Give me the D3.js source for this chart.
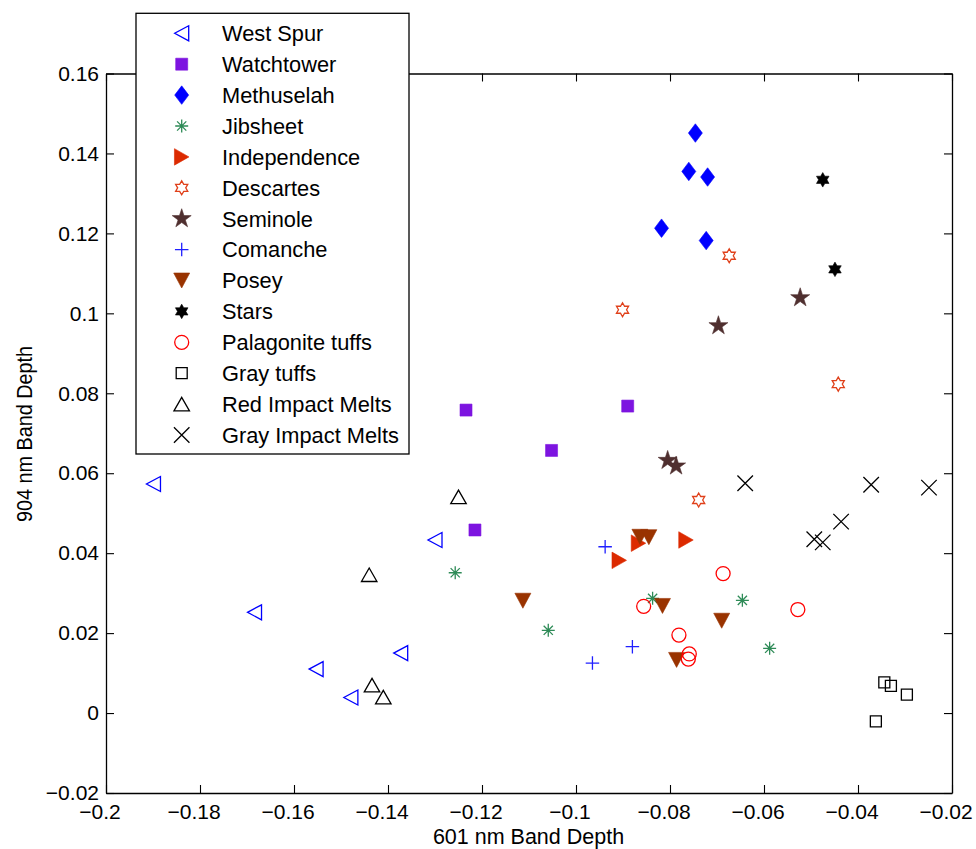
<!DOCTYPE html>
<html>
<head>
<meta charset="utf-8">
<script src="https://cdn.jsdelivr.net/npm/d3@7"></script>
<style>
  html, body { margin: 0; padding: 0; background: #fff; }
  svg { display: block; }
</style>
</head>
<body>
<svg id="chart" width="976" height="849"></svg>
<script>
// Band depth measurements: [601 nm band depth, 904 nm band depth]
const westSpur = [[-0.1899, 0.0573], [-0.1684, 0.0252], [-0.1553, 0.0110], [-0.1479, 0.0039], [-0.1373, 0.0150], [-0.1300, 0.0433]];
const watchtower = [[-0.1234, 0.0758], [-0.0890, 0.0768], [-0.1052, 0.0657], [-0.1215, 0.0458]];
const methuselah = [[-0.0746, 0.1451], [-0.0760, 0.1355], [-0.0720, 0.1341], [-0.0818, 0.1213], [-0.0723, 0.1182]];
const jibsheet = [[-0.1257, 0.0351], [-0.1059, 0.0207], [-0.0837, 0.0287], [-0.0646, 0.0282], [-0.0588, 0.0162]];
const independence = [[-0.0766, 0.0433], [-0.0908, 0.0382], [-0.0867, 0.0425]];
const descartes = [[-0.0674, 0.1144], [-0.0901, 0.1009], [-0.0442, 0.0823], [-0.0739, 0.0533]];
const seminole = [[-0.0523, 0.1039], [-0.0697, 0.0969], [-0.0805, 0.0632], [-0.0787, 0.0618]];
const comanche = [[-0.0938, 0.0416], [-0.0880, 0.0166], [-0.0965, 0.0125]];
const posey = [[-0.1113, 0.0281], [-0.0816, 0.0268], [-0.0690, 0.0231], [-0.0786, 0.0133], [-0.0864, 0.0441], [-0.0845, 0.0440]];
const stars = [[-0.0475, 0.1334], [-0.0449, 0.1110]];
const palagoniteTuffs = [[-0.0528, 0.0259], [-0.0687, 0.0349], [-0.0856, 0.0267], [-0.0781, 0.0195], [-0.0759, 0.0148], [-0.0761, 0.0135]];
const grayTuffs = [[-0.0344, 0.0077], [-0.0330, 0.0068], [-0.0296, 0.0046], [-0.0362, -0.0021]];
const redImpactMelts = [[-0.1440, 0.0346], [-0.1434, 0.0070], [-0.1410, 0.0040], [-0.1250, 0.0541]];
const grayImpactMelts = [[-0.0640, 0.0575], [-0.0372, 0.0571], [-0.0249, 0.0564], [-0.0436, 0.0479], [-0.0493, 0.0435], [-0.0475, 0.0427]];

const seriesNames = ["West Spur", "Watchtower", "Methuselah", "Jibsheet", "Independence", "Descartes", "Seminole",
  "Comanche", "Posey", "Stars", "Palagonite tuffs", "Gray tuffs", "Red Impact Melts", "Gray Impact Melts"];

const xTicks = [-0.2, -0.18, -0.16, -0.14, -0.12, -0.1, -0.08, -0.06, -0.04, -0.02];
const xTickLabels = ["\u22120.2", "\u22120.18", "\u22120.16", "\u22120.14", "\u22120.12", "\u22120.1", "\u22120.08", "\u22120.06", "\u22120.04", "\u22120.02"];
const yTicks = [-0.02, 0, 0.02, 0.04, 0.06, 0.08, 0.1, 0.12, 0.14, 0.16];
const yTickLabels = ["\u22120.02", "0", "0.02", "0.04", "0.06", "0.08", "0.1", "0.12", "0.14", "0.16"];

// Marker styling for each series, in legend order
const seriesStyles = [
  { shape: "triLeft",   color: "#0000ff", filled: false, w: 14, h: 15 },
  { shape: "square",    color: "#7d14e0", filled: true,  w: 12, h: 12 },
  { shape: "diamond",   color: "#0000ff", filled: true,  w: 14, h: 18.5 },
  { shape: "asterisk",  color: "#2e8b57", filled: false, w: 13, h: 13 },
  { shape: "triRight",  color: "#dc2a00", filled: true,  w: 14.5, h: 16.5 },
  { shape: "hexagram",  color: "#e0401a", filled: false, w: 14, h: 14 },
  { shape: "pentagram", color: "#4f2f2f", filled: true,  w: 19, h: 19 },
  { shape: "plus",      color: "#2020ff", filled: false, w: 13.5, h: 13.5 },
  { shape: "triDown",   color: "#993300", filled: true,  w: 16, h: 15 },
  { shape: "hexagram",  color: "#000000", filled: true,  w: 14.5, h: 14.5 },
  { shape: "circle",    color: "#ff0000", filled: false, w: 14, h: 14 },
  { shape: "square",    color: "#000000", filled: false, w: 11, h: 11 },
  { shape: "triUp",     color: "#000000", filled: false, w: 15.5, h: 13.5 },
  { shape: "cross",     color: "#000000", filled: false, w: 15.5, h: 15.5 }
];

const seriesData = [westSpur, watchtower, methuselah, jibsheet, independence, descartes, seminole,
  comanche, posey, stars, palagoniteTuffs, grayTuffs, redImpactMelts, grayImpactMelts];

const series = seriesNames.map((name, i) => Object.assign({ name, data: seriesData[i] }, seriesStyles[i]));

const FONT = "'Liberation Sans', Arial, Helvetica, sans-serif";
const plot = { left: 106, right: 952, top: 73.5, bottom: 793 };

const x = d3.scaleLinear().domain([-0.2, -0.02]).range([plot.left, plot.right]);
const y = d3.scaleLinear().domain([-0.02, 0.16]).range([plot.bottom, plot.top]);

const svg = d3.select("#chart");

// Marker outlines centred on the origin
function starPath(points, rOuter, rInner) {
  const p = d3.path();
  for (let k = 0; k < points * 2; k++) {
    const a = -Math.PI / 2 + k * Math.PI / points;
    const r = k % 2 === 0 ? rOuter : rInner;
    const px = r * Math.cos(a), py = r * Math.sin(a);
    if (k === 0) p.moveTo(px, py); else p.lineTo(px, py);
  }
  p.closePath();
  return p.toString();
}

function markerPath(s) {
  const w = s.w / 2, h = s.h / 2;
  switch (s.shape) {
    case "triLeft":  return `M${w},${-h}L${-w},0L${w},${h}Z`;
    case "triRight": return `M${-w},${-h}L${w},0L${-w},${h}Z`;
    case "triUp":    return `M0,${-h}L${w},${h}L${-w},${h}Z`;
    case "triDown":  return `M${-w},${-h}L${w},${-h}L0,${h}Z`;
    case "square":   return `M${-w},${-h}H${w}V${h}H${-w}Z`;
    case "diamond":  return `M0,${-h}L${w},0L0,${h}L${-w},0Z`;
    case "plus":     return `M${-w},0H${w}M0,${-h}V${h}`;
    case "cross":    return `M${-w},${-h}L${w},${h}M${-w},${h}L${w},${-h}`;
    case "asterisk": {
      const d = w * Math.SQRT1_2;
      return `M${-w},0H${w}M0,${-h}V${h}M${-d},${-d}L${d},${d}M${-d},${d}L${d},${-d}`;
    }
    case "circle":   return `M${w},0A${w},${w} 0 1,1 ${-w},0A${w},${w} 0 1,1 ${w},0Z`;
    case "hexagram": return starPath(6, h, h / Math.sqrt(3));
    case "pentagram": {
      const r = w / (2 * Math.sin(2 * Math.PI / 5)) * 2;
      return starPath(5, r, r * 0.382);
    }
  }
}

function styleMarker(sel, s) {
  sel.attr("d", markerPath(s))
    .attr("fill", s.filled ? s.color : "none")
    .attr("stroke", s.color)
    .attr("stroke-width", s.filled ? 0.6 : 1.3)
    .attr("stroke-linejoin", "miter");
}

// Axes: ticks point inward on all four sides
function styleAxis(g) {
  g.attr("font-family", FONT).attr("font-size", 21);
  g.select(".domain").attr("stroke", "#000").attr("stroke-width", 1.3);
  g.selectAll(".tick line").attr("stroke", "#000").attr("stroke-width", 1.1);
  g.selectAll(".tick text").attr("fill", "#000");
}

svg.append("rect")
  .attr("x", plot.left).attr("y", plot.top)
  .attr("width", plot.right - plot.left).attr("height", plot.bottom - plot.top)
  .attr("fill", "#fff");

svg.append("g")
  .attr("transform", `translate(0,${plot.bottom})`)
  .call(d3.axisBottom(x).tickValues(xTicks).tickFormat((d, i) => xTickLabels[i])
    .tickSizeInner(-8).tickSizeOuter(0).tickPadding(11))
  .call(styleAxis)
  .call(g => g.selectAll(".tick text").attr("dx", -6.5));

svg.append("g")
  .attr("transform", `translate(0,${plot.top})`)
  .call(d3.axisTop(x).tickValues(xTicks).tickFormat("")
    .tickSizeInner(-8).tickSizeOuter(0))
  .call(styleAxis);

svg.append("g")
  .attr("transform", `translate(${plot.left},0)`)
  .call(d3.axisLeft(y).tickValues(yTicks).tickFormat((d, i) => yTickLabels[i])
    .tickSizeInner(-8).tickSizeOuter(0).tickPadding(7))
  .call(styleAxis);

svg.append("g")
  .attr("transform", `translate(${plot.right},0)`)
  .call(d3.axisRight(y).tickValues(yTicks).tickFormat("")
    .tickSizeInner(-8).tickSizeOuter(0))
  .call(styleAxis);

// Axis titles
svg.append("text")
  .attr("x", (plot.left + plot.right) / 2 - 0.5).attr("y", 843.5)
  .attr("text-anchor", "middle")
  .attr("font-family", FONT).attr("font-size", 21.5).attr("fill", "#000")
  .text("601 nm Band Depth");

svg.append("text")
  .attr("transform", "translate(32,434) rotate(-90) scale(0.88,1)")
  .attr("text-anchor", "middle")
  .attr("font-family", FONT).attr("font-size", 22.5).attr("fill", "#000")
  .text("904 nm Band Depth");

// Data points
const marks = svg.append("g");
series.forEach(s => {
  marks.append("g").selectAll("path")
    .data(s.data)
    .join("path")
    .attr("transform", d => `translate(${x(d[0])},${y(d[1])})`)
    .call(sel => styleMarker(sel, s));
});

// Legend
const legend = { x: 136, y: 13.3, w: 273, h: 440.7, row0: 33.3, step: 30.9, markerX: 181.7, textX: 222 };
const lg = svg.append("g");
lg.append("rect")
  .attr("x", legend.x).attr("y", legend.y)
  .attr("width", legend.w).attr("height", legend.h)
  .attr("fill", "#fff").attr("stroke", "#000").attr("stroke-width", 1.3);

const rows = lg.selectAll("g.row")
  .data(series)
  .join("g")
  .attr("class", "row")
  .attr("transform", (d, i) => `translate(0,${legend.row0 + i * legend.step})`);

rows.append("path")
  .attr("transform", `translate(${legend.markerX},0)`)
  .each(function (s) { styleMarker(d3.select(this), s); });

rows.append("text")
  .attr("x", legend.textX).attr("dy", "0.36em")
  .attr("font-family", FONT).attr("font-size", 21.8).attr("fill", "#000")
  .text(s => s.name);
</script>
</body>
</html>
